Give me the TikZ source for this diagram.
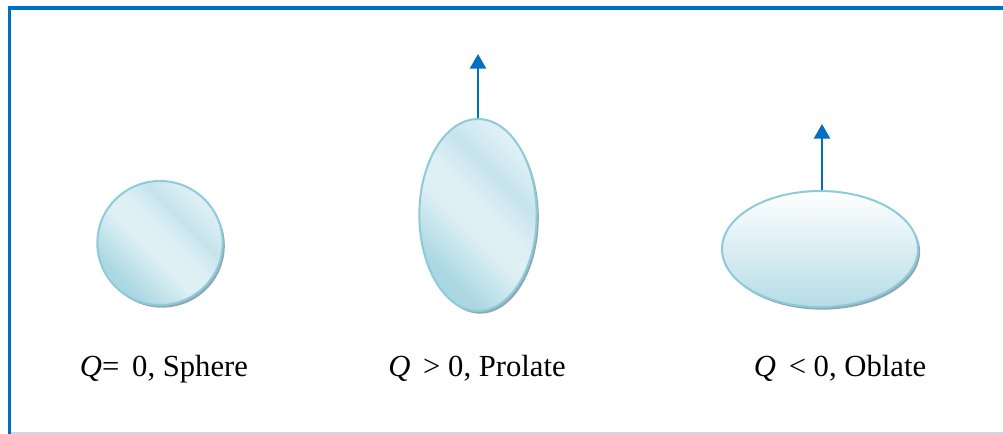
\documentclass[tikz,border=0pt]{standalone}
\usepackage{fontspec}
\setmainfont{Liberation Serif}
\usetikzlibrary{shapes.geometric,arrows.meta,shadows}
\definecolor{framec}{HTML}{0070C0}
\definecolor{bottomc}{HTML}{C8DAEA}
\definecolor{edgec}{HTML}{8ECBD9}
\definecolor{shadowc}{HTML}{8FA9B3}
\definecolor{arrowc}{HTML}{0070C0}
\definecolor{gdark}{HTML}{AAD7E2}
\definecolor{gmid}{HTML}{C6E4EC}
\definecolor{glight}{HTML}{DFF0F5}
\definecolor{gtop}{HTML}{FFFFFF}
\definecolor{gbot}{HTML}{B6DCE6}
\pgfdeclarehorizontalshading{glass}{100bp}{
  color(0bp)=(gdark); color(28bp)=(gdark); color(45bp)=(glight);
  color(53bp)=(glight); color(63bp)=(gmid); color(74bp)=(glight);
  color(100bp)=(glight)}
\tikzset{
  body/.style={ellipse, draw=edgec, line width=1.5pt, inner sep=0pt,
    drop shadow={shadow xshift=1.6pt, shadow yshift=-2pt, fill=shadowc, opacity=1}},
  glassy/.style={body, shading=glass, shading angle=45},
  flatglass/.style={body, top color=gtop, bottom color=gbot},
  axisarrow/.style={draw=arrowc, line width=2pt,
    -{Triangle[width=12pt,length=11pt]}, arrowc},
  lab/.style={anchor=base, font=\fontsize{23pt}{27pt}\selectfont, inner sep=0pt}
}
\begin{document}
\begin{tikzpicture}[x=0.75pt,y=-0.75pt]
\useasboundingbox (0,0) rectangle (1003,434);
% frame
\coordinate (tl) at (9.5,8);
\coordinate (tr) at (1003,8);
\coordinate (bl) at (9.5,434);
\coordinate (bl2) at (8,433);
\coordinate (br) at (1003,433);
\draw[bottomc, line width=1pt] (bl2) -- (br);
\draw[framec, line width=2.7pt] (tr) -- (tl) -- (bl);
% bodies
\node[glassy, minimum width=94pt, minimum height=93pt] (sph) at (160,243) {};
\node[glassy, minimum width=88pt, minimum height=144pt] (pro) at (478,215) {};
\node[flatglass, minimum width=147pt, minimum height=87pt] (obl) at (820,249) {};
% arrows
\coordinate (protip) at (478,54);
\coordinate (obltip) at (822,124);
\draw[axisarrow] (pro.north) -- (protip);
\draw[axisarrow] ([xshift=1.5pt]obl.north) -- (obltip);
% labels
\node[lab] (l1) at (164,377) {\textit{Q}= \,0, Sphere};
\node[lab] (l2) at (477,377) {\textit{Q} \,> 0, Prolate};
\node[lab] (l3) at (840,377) {\textit{Q} \,< 0, Oblate};
\end{tikzpicture}
\end{document}
